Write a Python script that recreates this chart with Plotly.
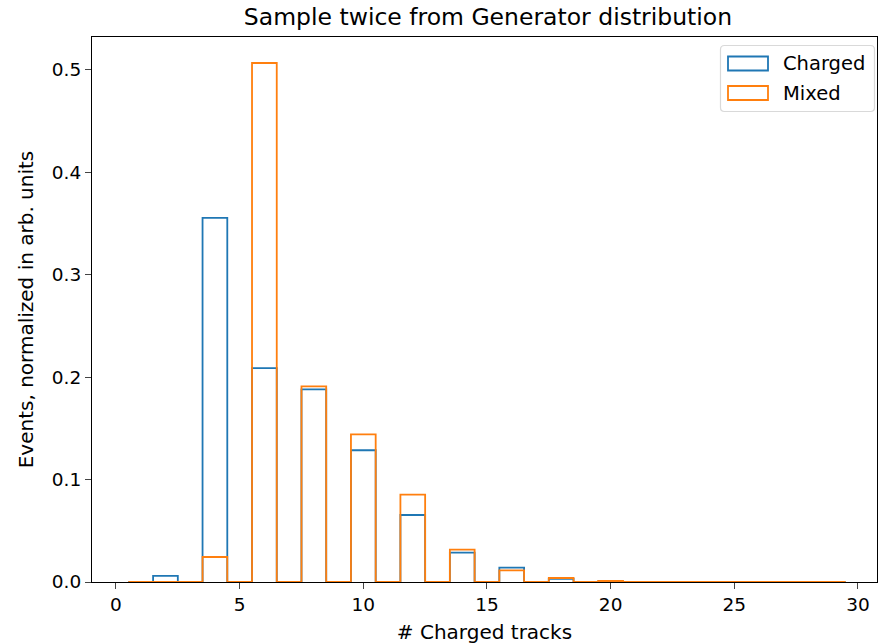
import plotly.graph_objects as go

# Data
track_counts = [2, 4, 6, 8, 10, 12, 14, 16, 18, 20]
charged = [0.0059, 0.3555, 0.2087, 0.1880, 0.1286, 0.0654, 0.0287, 0.0141, 0.0030, 0.0005]
mixed = [0.0000, 0.0244, 0.5066, 0.1910, 0.1442, 0.0853, 0.0316, 0.0114, 0.0039, 0.0010]
bin_centers = list(range(1, 30))  # unit bins from 0.5 to 29.5
series_names = ["Charged", "Mixed"]
series_colors = ["#1f77b4", "#ff7f0e"]

def step_xy(values):
    lookup = dict(zip(track_counts, values))
    heights = [lookup.get(c, 0.0) for c in bin_centers]
    edges = [c - 0.5 for c in bin_centers] + [bin_centers[-1] + 0.5]
    xs = [edges[0]] + edges[:-1] + [edges[-1]]
    ys = [0.0] + heights + [0.0]
    return xs, ys

W, H = 878, 644
L, R, T, B = 92, 1, 37, 62
PW, PH = W - L - R, H - T - B

def px(xp):
    return (xp - L) / PW

def py(yp):
    return (H - B - yp) / PH

fig = go.Figure()
for name, vals, color in zip(series_names, [charged, mixed], series_colors):
    xs, ys = step_xy(vals)
    fig.add_trace(go.Scatter(
        x=xs, y=ys, name=name, mode="lines",
        line=dict(color=color, width=1.8, shape="hv"),
        hoverinfo="skip", showlegend=False,
    ))

# Manual matplotlib-like legend
shapes = []
x0, x1, y0, y1, r = 720.5, 874.5, 45.5, 111.5, 4
rx, ry = r / PW, r / PH
X0, X1, Y0, Y1 = px(x0), px(x1), py(y0), py(y1)
path = (f"M {X0+rx},{Y0} L {X1-rx},{Y0} Q {X1},{Y0} {X1},{Y0-ry} "
        f"L {X1},{Y1+ry} Q {X1},{Y1} {X1-rx},{Y1} L {X0+rx},{Y1} Q {X0},{Y1} {X0},{Y1+ry} "
        f"L {X0},{Y0-ry} Q {X0},{Y0} {X0+rx},{Y0} Z")
shapes.append(dict(type="path", xref="paper", yref="paper", path=path,
                   line=dict(color="#d9d9d9", width=1.2), fillcolor="rgba(255,255,255,0.8)",
                   layer="above"))
annotations = []
for i, (name, color) in enumerate(zip(series_names, series_colors)):
    top = 56.5 + i * 29.5
    shapes.append(dict(type="rect", xref="paper", yref="paper",
                       x0=px(728), x1=px(768), y0=py(top), y1=py(top + 14),
                       line=dict(color=color, width=1.8), fillcolor="rgba(0,0,0,0)",
                       layer="above"))
    annotations.append(dict(text=name, xref="paper", yref="paper", x=px(781), y=py(top + 7),
                            xanchor="left", yanchor="middle", showarrow=False,
                            font=dict(size=19.5)))

font = "DejaVu Sans, Arial, sans-serif"
fig.update_layout(
    width=W, height=H,
    margin=dict(l=L, r=R, t=T, b=B, autoexpand=False),
    paper_bgcolor="white", plot_bgcolor="white",
    font=dict(family=font, size=18.5, color="black"),
    title=dict(text="Sample twice from Generator distribution", x=px(488), xanchor="center",
               xref="paper", y=1 - 17 / H, yanchor="middle", font=dict(size=23.5)),
    showlegend=False,
    shapes=shapes,
    annotations=annotations,
    xaxis=dict(range=[-0.97, 30.77], tickmode="array", tickvals=[0, 5, 10, 15, 20, 25, 30],
               showgrid=False, zeroline=False, showline=True, linecolor="black", linewidth=1.2,
               mirror=True, ticks="outside", ticklen=6, tickwidth=1.2,
               title=dict(text="# Charged tracks", standoff=10, font=dict(size=20)),
               tickfont=dict(size=18.5)),
    yaxis=dict(range=[0, 0.532], tickmode="array", tickvals=[0, 0.1, 0.2, 0.3, 0.4, 0.5],
               ticktext=["0.0", "0.1", "0.2", "0.3", "0.4", "0.5"],
               showgrid=False, zeroline=False, showline=True, linecolor="black", linewidth=1.2,
               mirror=True, ticks="outside", ticklen=6, tickwidth=1.2,
               title=dict(text="Events, normalized in arb. units", standoff=12, font=dict(size=20)),
               tickfont=dict(size=18.5)),
)

fig.write_html("out.html", config={"displayModeBar": False},
               post_script="document.body.style.margin='0';")
